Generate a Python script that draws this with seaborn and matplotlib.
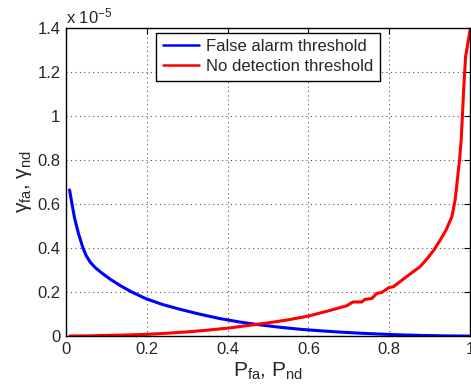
import numpy as np
import pandas as pd
import seaborn as sns
import matplotlib.pyplot as plt
from matplotlib.ticker import FuncFormatter

# values, y in units of 1e-5
p_fa = [0.009, 0.015, 0.0215, 0.031, 0.042, 0.05, 0.06, 0.072, 0.087, 0.11, 0.134, 0.16,
        0.198, 0.24, 0.282, 0.33, 0.38, 0.43, 0.48, 0.53, 0.58, 0.63, 0.68, 0.73,
        0.78, 0.83, 0.88, 0.94, 1.00]
gamma_fa = [0.664, 0.600, 0.535, 0.466, 0.401, 0.366, 0.336, 0.312, 0.289, 0.258, 0.230, 0.203,
            0.170, 0.143, 0.122, 0.100, 0.080, 0.064, 0.051, 0.040, 0.031, 0.024, 0.018, 0.013,
            0.009, 0.0055, 0.003, 0.001, 0.0]

p_nd = [0.01, 0.05, 0.10, 0.15, 0.20, 0.25, 0.30, 0.35, 0.40, 0.45, 0.50, 0.55, 0.60,
        0.65, 0.695, 0.71, 0.732, 0.74, 0.757, 0.769, 0.781, 0.80, 0.81, 0.85, 0.876,
        0.893, 0.91, 0.926, 0.94, 0.955, 0.963, 0.974, 0.978, 0.981, 0.985, 0.989, 1.0]
gamma_nd = [0.0005, 0.001, 0.003, 0.005, 0.008, 0.013, 0.019, 0.027, 0.036, 0.048, 0.060, 0.074, 0.091,
            0.115, 0.138, 0.155, 0.155, 0.167, 0.171, 0.194, 0.198, 0.221, 0.224, 0.280, 0.315,
            0.350, 0.390, 0.436, 0.480, 0.542, 0.618, 0.800, 0.890, 1.000, 1.149, 1.270, 1.390]

df = pd.concat([
    pd.DataFrame({'p': p_fa, 'gamma': gamma_fa, 'curve': 'False alarm threshold'}),
    pd.DataFrame({'p': p_nd, 'gamma': gamma_nd, 'curve': 'No detection threshold'}),
])

sns.set_style("white")
plt.rcParams['font.family'] = ['Liberation Sans', 'DejaVu Sans']
plt.rcParams['mathtext.fontset'] = 'custom'
plt.rcParams['mathtext.rm'] = 'Liberation Sans'
plt.rcParams['mathtext.it'] = 'Liberation Sans'

fig = plt.figure(figsize=(4.71, 3.89), dpi=100)
ax = fig.add_axes([0.140, 0.136, 0.858, 0.792])

sns.lineplot(data=df, x='p', y='gamma', hue='curve', palette=['#0000ff', '#ff0000'],
             linewidth=2.2, ax=ax, sort=False)

ax.set_xlim(0, 1)
ax.set_ylim(0, 1.4)
ax.set_xticks([0, 0.2, 0.4, 0.6, 0.8, 1])
ax.set_yticks([0, 0.2, 0.4, 0.6, 0.8, 1, 1.2, 1.4])
fmt = FuncFormatter(lambda v, pos: f'{v:g}')
ax.xaxis.set_major_formatter(fmt)
ax.yaxis.set_major_formatter(fmt)
ax.tick_params(direction='in', length=4, width=0.8, labelsize=12, top=True, right=True,
               pad=4, color='black')
ax.grid(True, linestyle=(0, (1, 3)), color='#555555', linewidth=0.8)
for s in ax.spines.values():
    s.set_color('black')
    s.set_linewidth(1.0)

ax.set_xlabel(r'P$_{fa}$, P$_{nd}$', fontsize=15, labelpad=3)
ax.set_ylabel(r'$\gamma_{fa}$, $\gamma_{nd}$', fontsize=15, labelpad=2)
ax.text(0.0, 1.005, r'x 10$^{-5}$', transform=ax.transAxes, ha='left', va='bottom', fontsize=12)

leg = ax.legend(loc='upper center', bbox_to_anchor=(0.5, 0.985), fontsize=12, frameon=True,
                fancybox=False, framealpha=1, edgecolor='black', borderpad=0.4,
                handlelength=2.2, handletextpad=0.4, labelspacing=0.3, borderaxespad=0)
leg.get_frame().set_linewidth(1.0)
for line in leg.get_lines():
    line.set_linewidth(1.8)

fig.savefig('out.png', dpi=100)
